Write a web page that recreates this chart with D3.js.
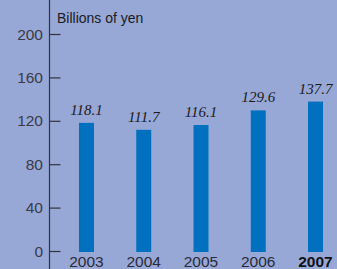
<!DOCTYPE html>
<html>
<head>
<meta charset="utf-8">
<script src="https://cdn.jsdelivr.net/npm/d3@7"></script>
<style>
  html, body { margin: 0; padding: 0; background: #97a8d6; }
  svg { display: block; }
</style>
</head>
<body>
<div id="chart"></div>
<script>
// Data
const years = ['2003', '2004', '2005', '2006', '2007'];
const values = [118.1, 111.7, 116.1, 129.6, 137.7];
const yTicks = [0, 40, 80, 120, 160, 200];
const unitLabel = 'Billions of yen';

const W = 337, H = 269;

const svg = d3.select('#chart')
    .append('svg')
    .attr('width', W)
    .attr('height', H);

svg.append('rect')
    .attr('width', W)
    .attr('height', H)
    .attr('fill', '#97a8d6');

// Scales
const x = d3.scalePoint()
    .domain(years)
    .range([86.5, 315.5]);

const y = d3.scaleLinear()
    .domain([0, 200])
    .range([251, 34]);

const barWidth = 15;

// Bars
svg.selectAll('.bar')
    .data(years)
    .enter()
    .append('rect')
    .attr('class', 'bar')
    .attr('x', d => x(d) - barWidth / 2)
    .attr('width', barWidth)
    .attr('y', (d, i) => y(values[i]))
    .attr('height', (d, i) => y(0) - y(values[i]) + 1)
    .attr('fill', '#0070bf');

// Value labels
svg.selectAll('.val')
    .data(years)
    .enter()
    .append('text')
    .attr('class', 'val')
    .attr('x', d => x(d))
    .attr('y', (d, i) => y(values[i]) - 8)
    .attr('text-anchor', 'middle')
    .style('font-family', '"Liberation Serif", "Times New Roman", serif')
    .style('font-style', 'italic')
    .style('font-size', '15px')
    .attr('fill', '#1a1a22')
    .text((d, i) => values[i].toFixed(1));

// Y axis
const yAxis = svg.append('g')
    .attr('transform', 'translate(49.5,0)')
    .call(d3.axisRight(y).tickValues(yTicks).tickSize(11).tickFormat(''));

yAxis.select('.domain').remove();
yAxis.selectAll('line')
    .attr('stroke', '#333340')
    .attr('stroke-width', 1.2);

svg.append('line')
    .attr('x1', 49.5).attr('x2', 49.5)
    .attr('y1', 0).attr('y2', H)
    .attr('stroke', '#333340')
    .attr('stroke-width', 1.2);

svg.selectAll('.ytick')
    .data(yTicks)
    .enter()
    .append('text')
    .attr('class', 'ytick')
    .attr('x', 43)
    .attr('y', d => y(d) + 5.5)
    .attr('text-anchor', 'end')
    .style('font-family', '"Liberation Sans", Arial, sans-serif')
    .style('font-size', '15.5px')
    .attr('fill', '#3a3a48')
    .text(d => d);

// Year labels
svg.selectAll('.year')
    .data(years)
    .enter()
    .append('text')
    .attr('class', 'year')
    .attr('x', d => x(d))
    .attr('y', 267)
    .attr('text-anchor', 'middle')
    .style('font-family', '"Liberation Sans", Arial, sans-serif')
    .style('font-size', '15.5px')
    .style('font-weight', d => d === '2007' ? 'bold' : 'normal')
    .attr('fill', d => d === '2007' ? '#111118' : '#2a2a38')
    .text(d => d);

// Unit label
svg.append('text')
    .attr('x', 57)
    .attr('y', 23)
    .style('font-family', '"Liberation Sans", Arial, sans-serif')
    .style('font-size', '14px')
    .attr('fill', '#1a1a22')
    .text(unitLabel);
</script>
</body>
</html>
